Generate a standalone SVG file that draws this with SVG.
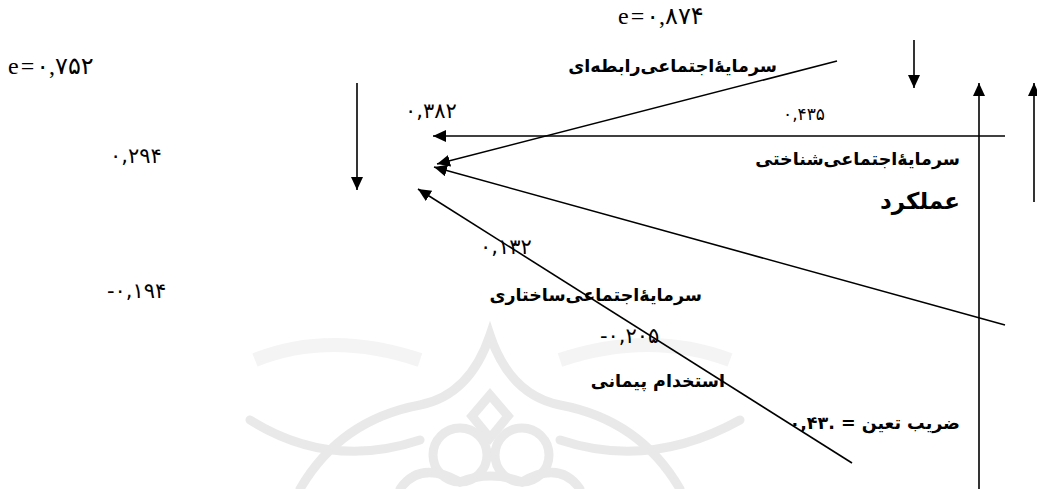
<svg xmlns="http://www.w3.org/2000/svg" width="1037" height="489" viewBox="0 0 1037 489">
<style>
.fa{font-family:"DejaVu Sans",sans-serif;font-weight:bold;font-size:17.5px;fill:#000;direction:rtl;unicode-bidi:embed}
.num{font-family:"DejaVu Sans",sans-serif;font-size:21px;fill:#000;letter-spacing:3.5px}
.e{font-family:"Liberation Serif","DejaVu Sans",serif;font-size:24px;fill:#000;letter-spacing:2px}
.c{stroke:#000;stroke-width:1.6;fill:none;marker-end:url(#ah)}
.wm{stroke:#e2e2e2;stroke-width:9;fill:none;stroke-linecap:round}
</style>
<defs>
<marker id="ah" markerWidth="14" markerHeight="14" refX="13" refY="6" orient="auto" markerUnits="userSpaceOnUse">
<path d="M0,0 L13,6 L0,12 z" fill="#000"/>
</marker>
</defs>
<rect width="1037" height="489" fill="#fff"/>
<g id="watermark" opacity="0.75">
<path class="wm" d="M300,489 Q340,420 420,405 Q470,395 490,335 Q510,395 560,405 Q640,420 680,489"/>
<path class="wm" d="M250,420 Q330,470 420,440"/>
<path class="wm" d="M740,420 Q650,470 560,440"/>
<path class="wm" d="M490,395 L472,416 L490,438 L508,416 z"/>
<circle class="wm" cx="460" cy="455" r="27"/>
<circle class="wm" cx="522" cy="455" r="27"/>
<path class="wm" d="M400,489 Q420,460 460,482 Q490,470 522,482 Q560,460 580,489" stroke-width="7"/>
<path d="M255,360 Q330,330 420,360 M560,360 Q650,330 730,360" stroke="#f1f1f1" stroke-width="14" fill="none"/>
</g>
<g id="connectors">
<line class="c" x1="357" y1="83" x2="357" y2="190"/>
<line class="c" x1="1005" y1="136" x2="433" y2="136"/>
<line class="c" x1="837" y1="61" x2="437" y2="164"/>
<line class="c" x1="1005" y1="325" x2="434" y2="167"/>
<line class="c" x1="852" y1="463" x2="418" y2="189"/>
<line class="c" x1="914" y1="40" x2="914" y2="88"/>
<line class="c" x1="979" y1="489" x2="979" y2="83"/>
<line class="c" x1="1034" y1="202" x2="1034" y2="83"/>
</g>
<g id="e1"><text class="e" x="8" y="74">e=۰,۷۵۲</text></g>
<g id="e2"><text class="e" x="618" y="24">e=۰,۸۷۴</text></g>
<g id="n-relational"><text class="fa" x="777" y="72">سرمایۀاجتماعی‌رابطه‌ای</text></g>
<g id="n-cognitive"><text class="fa" x="960" y="165">سرمایۀاجتماعی‌شناختی</text></g>
<g id="n-performance"><text class="fa" x="960" y="209" style="font-size:23px">عملکرد</text></g>
<g id="n-structural"><text class="fa" x="702" y="301">سرمایۀاجتماعی‌ساختاری</text></g>
<g id="n-contract"><text class="fa" x="725" y="387">استخدام پیمانی</text></g>
<g id="r2"><text class="fa" x="960" y="429">ضریب تعین = .۰,۴۳</text></g>
<g id="labels">
<text class="num" x="405" y="118">۰,۳۸۲</text>
<text class="num" x="783" y="120" style="font-size:17px;letter-spacing:2.5px">۰,۴۳۵</text>
<text class="num" x="110" y="163">۰,۲۹۴</text>
<text class="num" x="480" y="254">۰,۱۳۲</text>
<text class="num" x="107" y="298">-۰,۱۹۴</text>
<text class="num" x="600" y="343">-۰,۲۰۵</text>
</g>
</svg>
